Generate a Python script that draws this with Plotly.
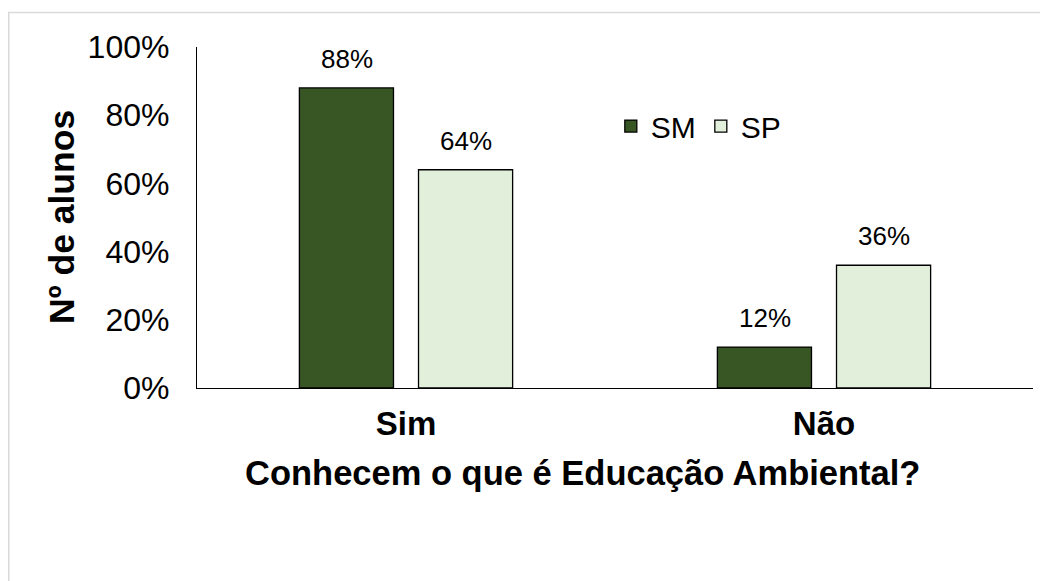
import plotly.graph_objects as go

categories = ["Sim", "Não"]
sm_values = [0.88, 0.12]
sp_values = [0.64, 0.36]
y_ticks = [0, 0.2, 0.4, 0.6, 0.8, 1.0]
y_tick_labels = ["0%", "20%", "40%", "60%", "80%", "100%"]

font_family = "Arial, Liberation Sans, sans-serif"
dark_green = "#375623"
light_green = "#E2EFDA"

fig = go.Figure()
fig.add_trace(go.Bar(
    x=categories, y=sm_values, name="SM",
    marker=dict(color=dark_green, line=dict(color="black", width=1.3)),
))
fig.add_trace(go.Bar(
    x=categories, y=sp_values, name="SP",
    marker=dict(color=light_green, line=dict(color="black", width=1.3)),
))

# value labels above the bars (shifted left/right onto each bar of the group)
for vals, dx in [(sm_values, -59.5), (sp_values, 59.5)]:
    for cat, v in zip(categories, vals):
        fig.add_annotation(x=cat, y=v, text=f"{v:.0%}", showarrow=False,
                           xshift=dx, yshift=12, yanchor="bottom",
                           font=dict(size=26, color="black", family=font_family))

W, H = 1048, 581
ml, mr, mt, mb = 189, 23, 39, 201
pw, ph = W - ml - mr, H - mt - mb

# axis titles as annotations (the x title sits left of the plot centre)
fig.add_annotation(xref="paper", yref="paper", x=(574 - ml) / pw, y=(H - mb - 465) / ph,
                   text="<b>Conhecem o que é Educação Ambiental?</b>", showarrow=False,
                   xanchor="center", yanchor="middle", font=dict(size=34.5))
fig.add_annotation(xref="paper", yref="paper", x=(54 - ml) / pw, y=(H - mb - 209) / ph,
                   text="<b>Nº de alunos</b>", showarrow=False, textangle=-90,
                   xanchor="center", yanchor="middle", font=dict(size=35.5))

# light grey outer frame like the spreadsheet chart area
fig.add_shape(type="rect", xref="paper", yref="paper",
              x0=(0.75 - ml) / pw, x1=(1070 - ml) / pw,
              y0=(H - mb - 620) / ph, y1=(H - mb - 4.5) / ph,
              line=dict(color="#D9D9D9", width=1.5), fillcolor="rgba(0,0,0,0)",
              layer="below")

fig.update_layout(
    width=W, height=H,
    margin=dict(l=ml, r=mr, t=mt, b=mb, autoexpand=False),
    paper_bgcolor="white", plot_bgcolor="white",
    barmode="group", bargap=0.43, bargroupgap=0.21,
    font=dict(family=font_family, color="black", size=30),
    legend=dict(orientation="h", x=0.495, y=0.768, xanchor="left", yanchor="middle",
                font=dict(size=30), bgcolor="rgba(0,0,0,0)", itemwidth=30,
                tracegroupgap=0),
    showlegend=True,
)
fig.update_xaxes(
    automargin=False,
    showline=True, linecolor="black", linewidth=1.3,
    showgrid=False, ticks="outside", ticklen=6, tickcolor="rgba(0,0,0,0)",
    tickfont=dict(size=33, family=font_family, weight="bold"),
)
fig.update_yaxes(
    automargin=False,
    range=[0, 1], tickvals=y_ticks, ticktext=y_tick_labels,
    showline=True, linecolor="black", linewidth=1.3,
    showgrid=False, ticks="outside", ticklen=20, tickcolor="rgba(0,0,0,0)",
    tickfont=dict(size=32),
)

fig.write_html("out.html")
